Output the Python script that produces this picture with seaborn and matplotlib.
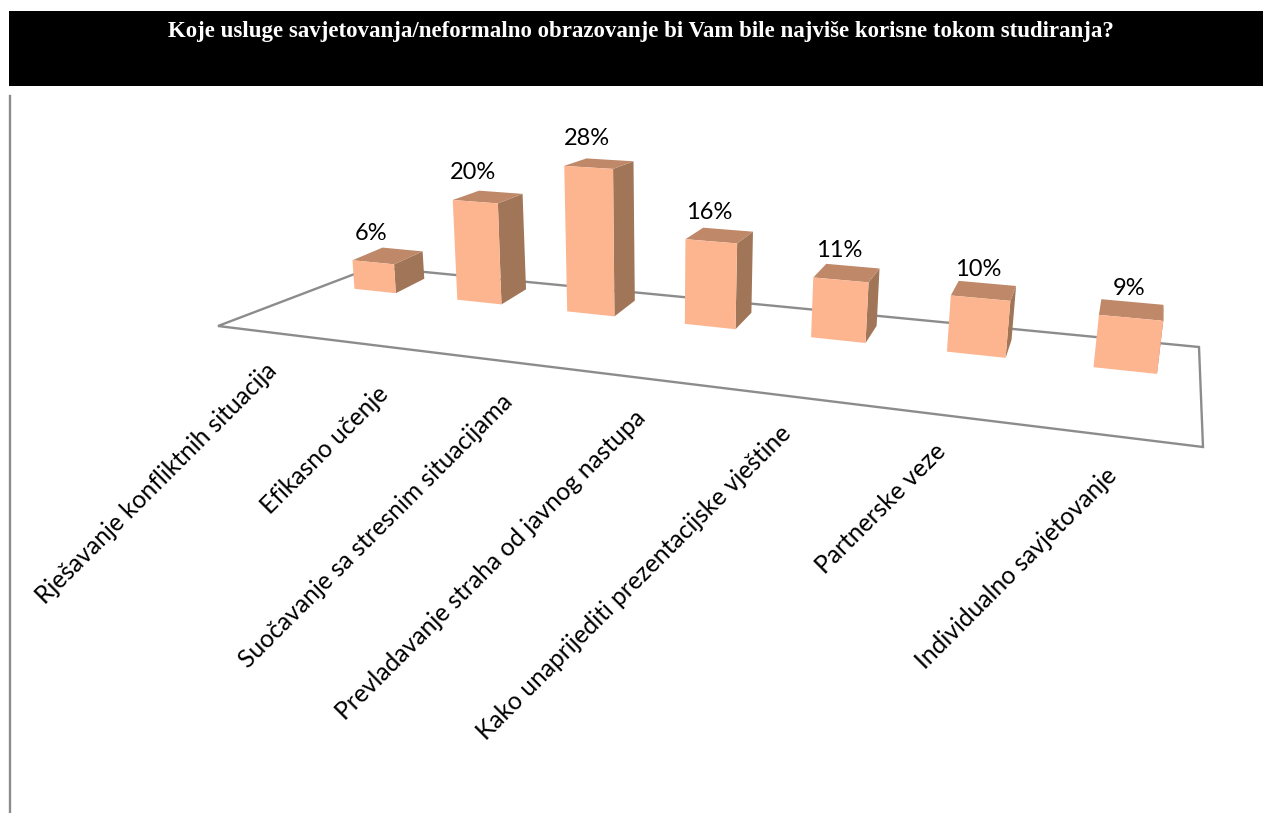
import numpy as np
import pandas as pd
import matplotlib
matplotlib.use("Agg")
import matplotlib.pyplot as plt
import matplotlib.transforms as mtransforms
from matplotlib.patches import Polygon, Rectangle
import seaborn as sns

# Data
title = "Koje usluge savjetovanja/neformalno obrazovanje bi Vam bile najviše korisne tokom studiranja?"
categories = [
    "Rješavanje konfliktnih situacija",
    "Efikasno učenje",
    "Suočavanje sa stresnim situacijama",
    "Prevladavanje straha od javnog nastupa",
    "Kako unaprijediti prezentacijske vještine",
    "Partnerske veze",
    "Individualno savjetovanje",
]
values = [6, 20, 28, 16, 11, 10, 9]

# where the end of each slanted label sits, in pixels
label_x = [273, 385, 509, 642, 787, 942, 1113]
label_y = [367, 390, 398, 414, 430, 447, 472]

FRONT = "#FDB58F"
TOP = "#BE8869"
SIDE = "#A07558"
LINE = "#8C8C8C"


# Excel style 3D look: maps (category, percent) to pixels
class BarPerspective(mtransforms.Transform):
    input_dims = 2
    output_dims = 2
    is_separable = False
    has_inverse = False

    def transform_non_affine(self, values):
        pts = np.asarray(values, dtype=float)
        x, v = pts[:, 0], pts[:, 1]
        w = 1 - 0.03213 * x - 0.001105 * v
        px = (88.85 * x + 375 - 0.723 * v) / w
        py = (1.35 * x + 291 - 5.08 * v) / w
        return np.column_stack([px, py])


def back_of(p):
    # the same point pushed back to the rear of the bar
    return np.column_stack([p[:, 0] + 0.037 * (1165 - p[:, 0]), p[:, 1] - 0.055 * (p[:, 1] - 30)])


df = pd.DataFrame({"usluga": categories, "udio": values})

fig = plt.figure(figsize=(12.63, 8.13), dpi=100)
ax = fig.add_axes([0, 0, 1, 1])

sns.barplot(data=df, x="usluga", y="udio", color=FRONT, saturation=1, width=0.41, ax=ax, zorder=5)

persp = BarPerspective()
to_pixels = persp + ax.transData

for i, bar in enumerate(ax.patches):
    x0, x1 = bar.get_x(), bar.get_x() + bar.get_width()
    v = bar.get_height()
    bar.set_transform(to_pixels)
    bar.set_edgecolor("none")
    bar.set_clip_on(False)

    front = persp.transform(np.array([[x0, 0], [x1, 0], [x1, v], [x0, v]]))
    back = back_of(front)
    ax.add_patch(Polygon([front[1], back[1], back[2], front[2]], fc=SIDE, ec="none", zorder=4))
    ax.add_patch(Polygon([front[3], front[2], back[2], back[3]], fc=TOP, ec="none", zorder=4))

    # value label above the top of the bar
    ax.text((front[2, 0] + front[3, 0]) / 2 - 2, front[2:, 1].mean() - 29, f"{values[i]}%",
            ha="center", va="center", fontsize=17, family="Lato", color="black", zorder=6)

for i, name in enumerate(categories):
    ax.text(label_x[i], label_y[i], name, rotation=45, rotation_mode="anchor",
            ha="right", va="center", fontsize=17.7, family="Lato", color="black")

# floor of the chart
ax.add_patch(Polygon([(218, 326), (373, 267), (1199, 347), (1203, 447)], closed=True,
                     fc="none", ec=LINE, lw=1.7, zorder=2))

# header band and left rule
ax.add_patch(Rectangle((9, 11), 1254, 75, fc="black", ec="none", zorder=1))
ax.text(641, 32, title, ha="center", va="center", color="white", fontsize=16.5,
        fontweight="bold", family="Liberation Serif", zorder=2)
ax.plot([10, 10], [96, 813], color=LINE, lw=1.7, zorder=1)

ax.set_xlim(0, 1263)
ax.set_ylim(813, 0)
ax.axis("off")

fig.savefig("out.png", dpi=100)
